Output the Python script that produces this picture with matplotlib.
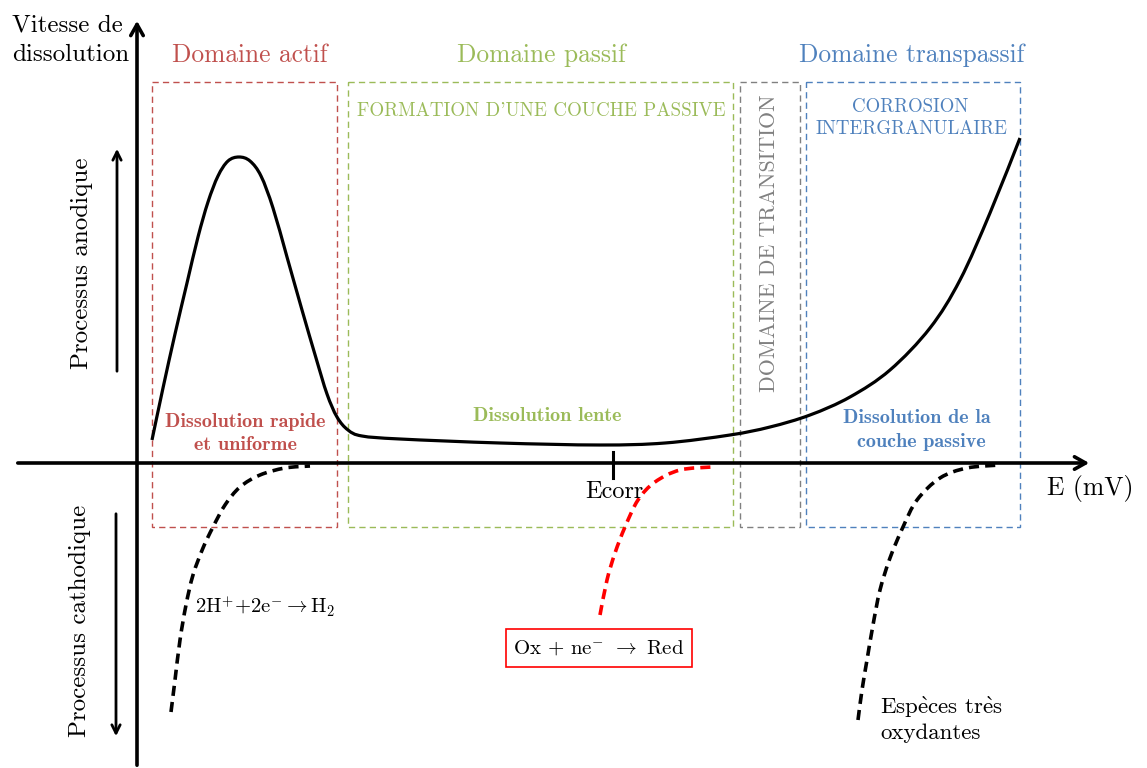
import numpy as np
import matplotlib
matplotlib.use('Agg')
import matplotlib.pyplot as plt
from matplotlib.path import Path
from matplotlib.patches import PathPatch, Rectangle

plt.rcParams['mathtext.fontset'] = 'cm'

# polarisation curve (E position, dissolution rate) read in picture units
curve_e = [152, 163, 175, 187, 198, 208, 218, 228, 239, 250, 261, 273, 287, 302, 316, 327,
           337, 348, 362, 400, 500, 600, 665, 730, 770, 810, 850, 890, 930, 960, 990, 1020]
curve_v = [440, 388, 334, 283, 237, 202, 176, 161, 157, 161, 176, 208, 257, 310, 358, 394,
           417, 430, 436, 439, 443, 445, 443, 435, 427, 415, 397, 370, 328, 280, 213, 138]

# cathodic branches
h2_e = [171, 175, 180, 186, 193, 203, 213, 225, 240, 260, 285, 310]
h2_v = [712, 680, 640, 605, 575, 548, 527, 505, 487, 475, 468, 466]
ox_e = [600, 607, 615, 625, 638, 655, 680, 712]
ox_v = [615, 580, 553, 527, 500, 482, 470, 467]
strong_e = [858, 862, 867, 873, 880, 890, 903, 917, 940, 967, 1000]
strong_v = [720, 690, 660, 625, 590, 558, 527, 500, 478, 468, 465]

# domains
domains = ['Domaine actif', 'Domaine passif', None, 'Domaine transpassif']
dom_left = [152, 348, 740, 806]
dom_right = [337, 733, 800, 1020]
dom_colors = ['#c0504d', '#9bbb59', '#808080', '#4f81bd']
box_top, box_bottom = 82, 527
axis_e0, axis_v0 = 137, 463
e_corr = 613

RM = ['cmr10', 'DejaVu Serif']
BF = ['cmb10', 'DejaVu Serif']


def smooth_path(xs, ys):
    pts = np.column_stack([xs, ys]).astype(float)
    verts = [pts[0]]
    codes = [Path.MOVETO]
    n = len(pts)
    for i in range(n - 1):
        p0 = pts[max(i - 1, 0)]
        p1 = pts[i]
        p2 = pts[i + 1]
        p3 = pts[min(i + 2, n - 1)]
        verts += [p1 + (p2 - p0) / 6, p2 - (p3 - p1) / 6, p2]
        codes += [Path.CURVE4] * 3
    return Path(verts, codes)


fig = plt.figure(figsize=(11.47, 7.68), dpi=100)
ax = fig.add_axes([0, 0, 1, 1])
ax.set_xlim(0, 1147)
ax.set_ylim(768, 0)
ax.axis('off')

# axes arrows
ax.annotate('', xy=(axis_e0, 18), xytext=(axis_e0, 768),
            arrowprops=dict(arrowstyle='->,head_length=0.8,head_width=0.45', lw=2.6, color='black'))
ax.annotate('', xy=(1092, axis_v0), xytext=(15, axis_v0),
            arrowprops=dict(arrowstyle='->,head_length=0.8,head_width=0.45', lw=2.6, color='black'))
ax.plot([e_corr, e_corr], [452, 478], color='black', lw=2.2)

# process arrows
ax.annotate('', xy=(117, 146), xytext=(117, 374),
            arrowprops=dict(arrowstyle='->,head_length=0.6,head_width=0.3', lw=2, color='black'))
ax.annotate('', xy=(116, 739), xytext=(116, 511),
            arrowprops=dict(arrowstyle='->,head_length=0.6,head_width=0.3', lw=2, color='black'))

# domain boxes
for left, right, col in zip(dom_left, dom_right, dom_colors):
    ax.add_patch(Rectangle((left, box_top), right - left, box_bottom - box_top, fill=False,
                           ec=col, lw=1.0, ls=(0, (4.5, 3))))

# curves
ax.add_patch(PathPatch(smooth_path(curve_e, curve_v), fill=False, ec='black', lw=2.3))
for xs, ys, col in [(h2_e, h2_v, 'black'), (ox_e, ox_v, '#ff0000'), (strong_e, strong_v, 'black')]:
    ax.add_patch(PathPatch(smooth_path(xs, ys), fill=False, ec=col, lw=2.6,
                           ls=(0, (2.8, 1.7)), capstyle='butt'))

# titles
title_x = [250, 541, None, 912]
for name, tx, col in zip(domains, title_x, dom_colors):
    if name:
        ax.text(tx, 55, name, color=col, family=RM, fontsize=18.3, ha='center', va='center')

ax.text(12, 25, 'Vitesse de', family=RM, fontsize=18, ha='left', va='center')
ax.text(12, 55, 'dissolution', family=RM, fontsize=18, ha='left', va='center')
ax.text(1047, 488, 'E (mV)', family=RM, fontsize=18.5, ha='left', va='center')
ax.text(614, 492, 'Ecorr', family=RM, fontsize=17.5, ha='center', va='center')

ax.text(541, 111, "FORMATION D'UNE COUCHE PASSIVE", color=dom_colors[1], family=RM,
        fontsize=13.7, ha='center', va='center')
ax.text(910, 107, 'CORROSION', color=dom_colors[3], family=RM,
        fontsize=13.6, ha='center', va='center')
ax.text(912, 129, 'INTERGRANULAIRE', color=dom_colors[3], family=RM,
        fontsize=13.6, ha='center', va='center')
ax.text(769, 243, 'DOMAINE DE TRANSITION', color=dom_colors[2], family=RM,
        fontsize=15.8, ha='center', va='center', rotation=90)

ax.text(245, 422, 'Dissolution rapide', color=dom_colors[0], family=BF,
        fontsize=14.5, ha='center', va='center')
ax.text(245, 445, 'et uniforme', color=dom_colors[0], family=BF,
        fontsize=14.5, ha='center', va='center')
ax.text(547, 416, 'Dissolution lente', color=dom_colors[1], family=BF,
        fontsize=14.5, ha='center', va='center')
ax.text(917, 418, 'Dissolution de la', color=dom_colors[3], family=BF,
        fontsize=14.5, ha='center', va='center')
ax.text(921, 442, 'couche passive', color=dom_colors[3], family=BF,
        fontsize=14.5, ha='center', va='center')

ax.text(82, 263, 'Processus anodique', family=RM, fontsize=18, ha='center', va='center',
        rotation=90)
ax.text(80, 621, 'Processus cathodique', family=RM, fontsize=18, ha='center', va='center',
        rotation=90)

ax.text(195, 607, r'2H$^{+}$+2e$^{-}$$\boldsymbol{\rightarrow}$H$_{2}$', family=RM,
        fontsize=14.8, ha='left', va='center')
ax.add_patch(Rectangle((506, 629), 186, 38, fill=False, ec='#ff0000', lw=1.2))
ax.text(599, 648, r'Ox + ne$^{-}$ $\boldsymbol{\rightarrow}$ Red', family=RM, fontsize=15,
        ha='center', va='center')
ax.text(880, 707, r'Esp$\grave{\mathrm{e}}$ces tr$\grave{\mathrm{e}}$s', family=RM,
        fontsize=16.5, ha='left', va='center')
ax.text(880, 733, 'oxydantes', family=RM, fontsize=16.5, ha='left', va='center')

fig.savefig('out.png', dpi=100)
